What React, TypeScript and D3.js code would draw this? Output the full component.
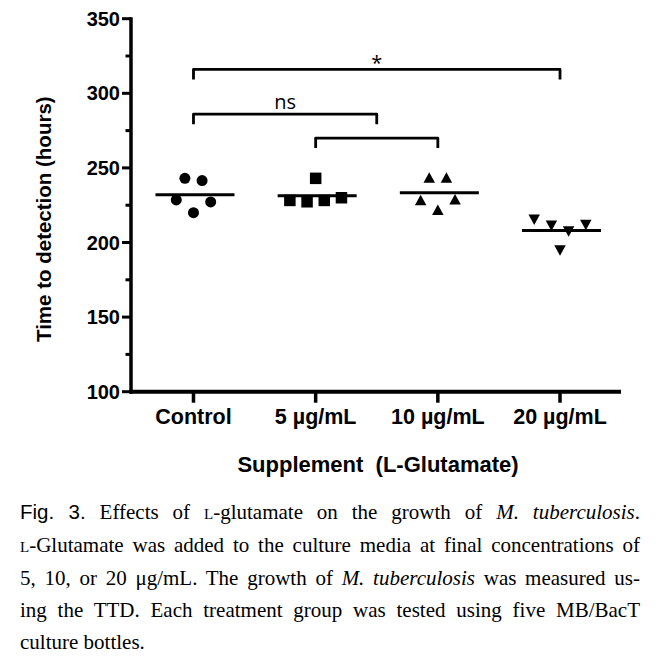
import React, { useEffect, useRef } from "react";
import * as d3 from "d3";

// ---------- data ----------
const categories = ["Control", "5 µg/mL", "10 µg/mL", "20 µg/mL"];
const controlTTD = [228.5, 243, 220, 241.5, 227.2];
const glu5TTD = [228.2, 227.3, 243, 228.2, 230];
const glu10TTD = [228.5, 243.5, 222, 243.5, 229];
const glu20TTD = [215.2, 211.2, 194.6, 207.4, 211.7];
const yTicks = [100, 150, 200, 250, 300, 350];
const yMinorTicks = [125, 175, 225, 275, 325];
const bracketLevels = [316, 286, 270];
const bracketLabels = ["*", "ns", ""];
// bracket ends as category indices (1.5 = midway between 5 and 10 µg/mL)
const bracketFrom = [0, 0, 1];
const bracketTo = [3, 1.5, 2];

const groups = [controlTTD, glu5TTD, glu10TTD, glu20TTD];

// ---------- layout ----------
const W = 659;
const H = 661;
const jitterSlots = [
  [-2, -1, 0, 1, 2],
  [-3, -1, 0, 1, 3],
  [-2, -1, 0, 1, 2],
  [-3, -1, 0, 1, 3],
];
const jitterUnit = 8.6;
const SANS = "'Liberation Sans', Arial, sans-serif";
const SERIF = "'Liberation Serif', 'Times New Roman', serif";

function markerPath(kind: number, cx: number, cy: number): string {
  if (kind === 0) {
    const r = 5.5;
    return `M${cx - r},${cy}a${r},${r} 0 1,0 ${2 * r},0a${r},${r} 0 1,0 ${-2 * r},0Z`;
  }
  if (kind === 1) {
    const s = 11.5 / 2;
    return `M${cx - s},${cy - s}H${cx + s}V${cy + s}H${cx - s}Z`;
  }
  const w = 11.5 / 2;
  const h = 10.5 / 2;
  if (kind === 2) return `M${cx},${cy - h}L${cx + w},${cy + h}L${cx - w},${cy + h}Z`;
  return `M${cx},${cy + h}L${cx + w},${cy - h}L${cx - w},${cy - h}Z`;
}

const captionLeft = 20;
const captionRight = 640;
const captionBaselines = [519, 552, 585, 617, 649];

export default function App() {
  const capRef = useRef<SVGGElement>(null);

  const y = d3.scaleLinear().domain([100, 350]).range([391.7, 18.7]);
  const x = d3.scalePoint<string>().domain(categories).range([132.4, 621.1]).padding(0.5);
  const axisX0 = 131;
  const axisX1 = 621;
  const xAt = (i: number) => (x(categories[0]) as number) + i * x.step();

  useEffect(() => {
    const g = capRef.current;
    if (!g) return;
    const nodes = g.querySelectorAll("text[data-justify]");
    nodes.forEach((n) => {
      const t = n as SVGTextElement;
      t.style.wordSpacing = "0px";
      const len = t.getComputedTextLength();
      const spaces = (t.textContent || "").split(" ").length - 1;
      const target = captionRight - captionLeft;
      if (spaces > 0) t.style.wordSpacing = `${(target - len) / spaces}px`;
    });
  }, []);

  const capFs = 21;
  const sc = (s: string) => <tspan fontSize={15}>{s}</tspan>;

  return (
    <svg
      width={W}
      height={H}
      viewBox={`0 0 ${W} ${H}`}
      style={{ position: "absolute", left: 0, top: 0, background: "#fff" }}
    >
      <rect x={0} y={0} width={W} height={H} fill="#fff" />

      {/* y axis */}
      <line x1={axisX0} x2={axisX0} y1={y(350) - 1.5} y2={y(100) + 2} stroke="#000" strokeWidth={3.5} />
      {yTicks.map((t) => (
        <g key={t}>
          <line x1={axisX0 - 9} x2={axisX0} y1={y(t)} y2={y(t)} stroke="#000" strokeWidth={3} />
          <text
            x={axisX0 - 11}
            y={y(t) + 7}
            textAnchor="end"
            fontFamily={SANS}
            fontWeight="bold"
            fontSize={20}
          >
            {t}
          </text>
        </g>
      ))}
      {yMinorTicks.map((t) => (
        <line key={t} x1={axisX0 - 5.5} x2={axisX0} y1={y(t)} y2={y(t)} stroke="#000" strokeWidth={3} />
      ))}
      <text
        transform={`translate(51,${(y(100) + y(350)) / 2 + 14}) rotate(-90)`}
        textAnchor="middle"
        fontFamily={SANS}
        fontWeight="bold"
        fontSize={20.5}
      >
        Time to detection (hours)
      </text>

      {/* x axis */}
      <line x1={axisX0 - 1.5} x2={axisX1} y1={y(100)} y2={y(100)} stroke="#000" strokeWidth={4} />
      {categories.map((c) => (
        <g key={c}>
          <line
            x1={x(c) as number}
            x2={x(c) as number}
            y1={y(100)}
            y2={y(100) + 11}
            stroke="#000"
            strokeWidth={3.5}
          />
          <text
            x={x(c) as number}
            y={424}
            textAnchor="middle"
            fontFamily={SANS}
            fontWeight="bold"
            fontSize={21.5}
          >
            {c}
          </text>
        </g>
      ))}
      <text
        x={(axisX0 + axisX1) / 2 + 2}
        y={472}
        textAnchor="middle"
        fontFamily={SANS}
        fontWeight="bold"
        fontSize={22}
        style={{ whiteSpace: "pre" }}
      >
        {"Supplement  (L-Glutamate)"}
      </text>

      {/* data */}
      {groups.map((vals, gi) => {
        const cx = x(categories[gi]) as number;
        const mean = d3.mean(vals) as number;
        return (
          <g key={gi}>
            <line
              x1={cx - 38}
              x2={cx + 41}
              y1={y(mean)}
              y2={y(mean)}
              stroke="#000"
              strokeWidth={3}
            />
            {vals.map((v, i) => (
              <path key={i} d={markerPath(gi, cx + jitterSlots[gi][i] * jitterUnit, y(v))} fill="#000" />
            ))}
          </g>
        );
      })}

      {/* significance brackets */}
      {bracketLevels.map((lv, i) => {
        const x1 = xAt(bracketFrom[i]);
        const x2 = xAt(bracketTo[i]);
        const yy = y(lv);
        const drop = 10;
        return (
          <g key={i}>
            <path
              d={`M${x1},${yy + drop}V${yy}H${x2}V${yy + drop}`}
              fill="none"
              stroke="#000"
              strokeWidth={2.8}
              strokeLinejoin="round"
            />
            {bracketLabels[i] && (
              <text
                x={(x1 + x2) / 2}
                y={bracketLabels[i] === "*" ? yy + 1 : yy - 5.5}
                textAnchor="middle"
                fontFamily="'Open Sans', 'DejaVu Sans', sans-serif"
                fontSize={20}
              >
                {bracketLabels[i]}
              </text>
            )}
          </g>
        );
      })}

      {/* caption */}
      <g ref={capRef} fontFamily={SERIF} fontSize={capFs} fill="#000">
        <text data-justify="1" x={captionLeft} y={captionBaselines[0]}>
          <tspan fontFamily={SANS} fontSize={20.5}>Fig. 3.</tspan>
          {" Effects of "}
          {sc("L")}
          {"-glutamate on the growth of "}
          <tspan fontStyle="italic">M. tuberculosis</tspan>
          {"."}
        </text>
        <text data-justify="1" x={captionLeft} y={captionBaselines[1]}>
          {sc("L")}
          {"-Glutamate was added to the culture media at final concentrations of"}
        </text>
        <text data-justify="1" x={captionLeft} y={captionBaselines[2]}>
          {"5, 10, or 20 μg/mL. The growth of "}
          <tspan fontStyle="italic">M. tuberculosis</tspan>
          {" was measured us-"}
        </text>
        <text data-justify="1" x={captionLeft} y={captionBaselines[3]}>
          ing the TTD. Each treatment group was tested using five MB/BacT
        </text>
        <text x={captionLeft} y={captionBaselines[4]}>
          culture bottles.
        </text>
      </g>
    </svg>
  );
}
